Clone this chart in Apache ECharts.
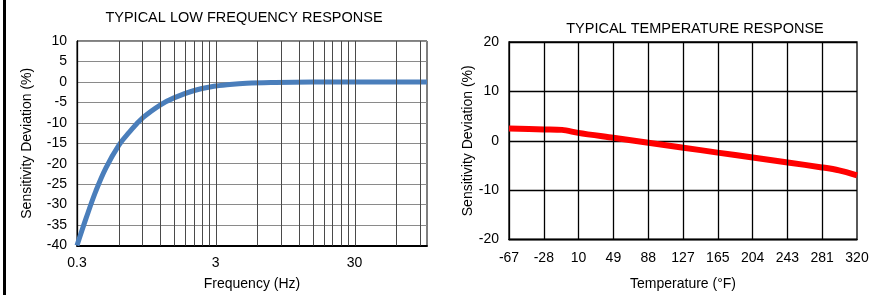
<!DOCTYPE html>
<html>
<head>
<meta charset="utf-8">
<script src="https://cdn.jsdelivr.net/npm/echarts@6/dist/echarts.min.js"></script>
<style>
  html, body { margin: 0; padding: 0; background: #fff; }
  #chart { width: 878px; height: 295px; }
</style>
</head>
<body>
<div id="chart"></div>
<script>
// low frequency response (Hz, %)
var freqHz = [0.3, 0.35, 0.41, 0.485, 0.6, 0.71, 0.9, 1.2, 1.5, 2.1, 3, 3.5, 5, 8, 15, 30, 100];
var freqDev = [-40, -33.2, -26.7, -21, -15.5, -12.4, -8.7, -5.6, -3.9, -2.1, -1.0, -0.75, -0.35, -0.15, -0.05, 0, 0];
var freqLabels = [0.3, 3, 30];
var freqGrid = [0.6, 0.9, 1.2, 1.5, 1.8, 2.1, 2.4, 2.7, 3, 6, 9, 12, 15, 18, 21, 24, 27, 30, 60, 90];

// temperature response (°F, %)
var tempF = [-67, -28, -8, 10, 49, 88, 127, 165, 204, 243, 281, 300, 320];
var tempDev = [2.5, 2.3, 2.2, 1.6, 0.6, -0.4, -1.4, -2.4, -3.4, -4.4, -5.4, -6.0, -7.0];
var tempTicks = [-67, -28.3, 10.4, 49.1, 87.8, 126.5, 165.2, 203.9, 242.6, 281.3, 320];

var lg = function (v) { return Math.log10(v); };
var txt = '#000';
var font = 'Liberation Sans, Arial, sans-serif';

// vertical grid lines drawn as mark lines at the given x values
function gridLines(values, color, width) {
    return {
        silent: true,
        symbol: 'none',
        label: {show: false},
        lineStyle: {type: 'solid', color: color, width: width},
        data: values.map(function (v) { return {xAxis: v}; })
    };
}

var chart = echarts.init(document.getElementById('chart'));
chart.setOption({
    animation: false,
    textStyle: {fontFamily: font, color: txt},
    graphic: [{
        type: 'rect',
        shape: {x: 3, y: 0, width: 3, height: 295},
        style: {fill: '#000'}
    }],
    title: [
        {
            text: 'TYPICAL LOW FREQUENCY RESPONSE',
            left: 239, top: 5, textAlign: 'center',
            textStyle: {fontSize: 14.5, fontWeight: 'normal', color: txt, fontFamily: font}
        },
        {
            text: 'TYPICAL TEMPERATURE RESPONSE',
            left: 690, top: 16, textAlign: 'center',
            textStyle: {fontSize: 14.5, fontWeight: 'normal', color: txt, fontFamily: font}
        }
    ],
    grid: [
        {left: 77, right: 451, top: 41, bottom: 49.5, outerBoundsMode: 'none',
            show: true, borderColor: '#000', borderWidth: 1},
        {left: 509, right: 21, top: 42, bottom: 55.5, outerBoundsMode: 'none',
            show: true, borderColor: '#000', borderWidth: 1.3}
    ],
    xAxis: [
        {
            gridIndex: 0,
            type: 'value',
            min: lg(0.3),
            max: 2,
            name: 'Frequency (Hz)',
            nameLocation: 'middle',
            nameGap: 32,
            nameTextStyle: {fontSize: 14, color: txt},
            axisLine: {show: true, onZero: false, lineStyle: {color: '#000', width: 2}},
            axisTick: {show: false},
            axisLabel: {
                customValues: freqLabels.map(lg),
                fontSize: 14, color: txt, margin: 11,
                formatter: function (v) { return String(Math.round(Math.pow(10, v) * 10) / 10); }
            },
            splitLine: {show: false}
        },
        {
            gridIndex: 1,
            type: 'value',
            min: -67,
            max: 320,
            name: 'Temperature (°F)',
            nameLocation: 'middle',
            nameGap: 38,
            nameTextStyle: {fontSize: 14, color: txt},
            axisLine: {show: true, onZero: false, lineStyle: {color: '#000', width: 1.3}},
            axisTick: {show: false},
            axisLabel: {
                customValues: tempTicks,
                fontSize: 14, color: txt, margin: 12,
                formatter: function (v) { return String(Math.round(v)); }
            },
            splitLine: {show: false}
        }
    ],
    yAxis: [
        {
            gridIndex: 0,
            type: 'value',
            min: -40, max: 10, interval: 5,
            name: 'Sensitivity Deviation (%)',
            nameLocation: 'middle',
            nameGap: 43,
            nameTextStyle: {fontSize: 14, color: txt},
            axisLine: {show: true, onZero: false, lineStyle: {color: '#000', width: 1.3}},
            axisTick: {show: false},
            axisLabel: {fontSize: 14, color: txt, margin: 10},
            splitLine: {show: true, lineStyle: {color: '#8a8a8a', width: 1}}
        },
        {
            gridIndex: 1,
            type: 'value',
            min: -20, max: 20, interval: 10,
            name: 'Sensitivity Deviation (%)',
            nameLocation: 'middle',
            nameGap: 34,
            nameTextStyle: {fontSize: 14, color: txt},
            axisLine: {show: true, onZero: false, lineStyle: {color: '#000', width: 1.3}},
            axisTick: {show: false},
            axisLabel: {fontSize: 14, color: txt, margin: 10},
            splitLine: {show: true, lineStyle: {color: '#000', width: 1.3}}
        }
    ],
    series: [
        {
            type: 'line',
            xAxisIndex: 0, yAxisIndex: 0,
            data: freqHz.map(function (f, i) { return [lg(f), freqDev[i]]; }),
            smooth: 0.4,
            showSymbol: false,
            lineStyle: {color: '#4a7ebb', width: 5},
            markLine: gridLines(freqGrid.map(lg), '#4a4a4a', 1),
            z: 3,
            clip: false
        },
        {
            type: 'line',
            xAxisIndex: 1, yAxisIndex: 1,
            data: tempF.map(function (t, i) { return [t, tempDev[i]]; }),
            smooth: 0.3,
            showSymbol: false,
            lineStyle: {color: '#ff0000', width: 6},
            markLine: gridLines(tempTicks.slice(1, -1), '#000', 1.3),
            z: 3,
            clip: false
        }
    ]
});
</script>
</body>
</html>
